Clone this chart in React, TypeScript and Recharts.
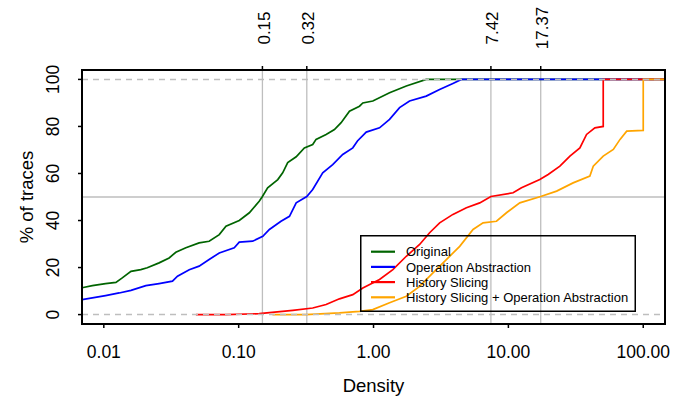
import React from 'react';
import { LineChart, Line, XAxis, YAxis, ReferenceLine, Legend, Label } from 'recharts';

// ---- data (density value, % of traces) ----
const originalPts: [number, number][] = [
  [0.00689, 11.4], [0.00822, 12.3], [0.0103, 13.2], [0.0123, 13.7], [0.0137, 15.6], [0.0159, 18.4],
  [0.0188, 19.1], [0.021, 19.9], [0.0257, 22], [0.0305, 24.1], [0.0342, 26.5], [0.0406, 28.4],
  [0.0509, 30.5], [0.0604, 31.2], [0.0718, 34], [0.0805, 37.6], [0.101, 40], [0.12, 43.3],
  [0.142, 48.2], [0.15, 50.2], [0.164, 53.9], [0.195, 57.4], [0.212, 60.3], [0.231, 64.6],
  [0.267, 67.1], [0.307, 70.9], [0.354, 72.3], [0.375, 74.5], [0.445, 76.6], [0.513, 78.7],
  [0.575, 81.6], [0.663, 86.5], [0.787, 88.6], [0.833, 90], [0.988, 90.8], [1.315, 94.3],
  [1.75, 97.2], [2.46, 100], [145, 100],
];
const opAbstractionPts: [number, number][] = [
  [0.00689, 6.4], [0.00822, 7.1], [0.0103, 8.1], [0.013, 9.2], [0.0159, 10.3], [0.0205, 12.3],
  [0.0257, 13.2], [0.0323, 14.2], [0.0352, 16.3], [0.043, 19.1], [0.0509, 20.6], [0.0604, 23.4],
  [0.0718, 26.2], [0.0927, 28.4], [0.101, 30.8], [0.127, 31.2], [0.151, 33.3], [0.169, 36.2],
  [0.206, 39.7], [0.238, 41.8], [0.267, 47.5], [0.32, 50.2], [0.354, 53.2], [0.42, 60.3],
  [0.498, 63.8], [0.591, 68.1], [0.702, 70.9], [0.76, 73.8], [0.883, 77.6], [1.108, 79.4],
  [1.315, 83], [1.56, 88], [1.85, 90.8], [2.46, 92.9], [3.09, 95.7], [3.88, 98.3], [4.48, 100],
  [145, 100],
];
const historySlicingPts: [number, number][] = [
  [0.0482, 0], [0.0805, 0], [0.142, 0.4], [0.252, 1.8], [0.354, 2.8], [0.445, 4.3], [0.559, 6.7],
  [0.702, 8.5], [0.833, 11.3], [1.108, 14.9], [1.391, 19.1], [1.75, 24.8], [2.197, 29.8],
  [2.606, 34.8], [3.093, 39], [3.88, 42.6], [4.883, 45.4], [6.13, 47.5], [7.42, 50.2],
  [10.84, 51.8], [12.51, 53.9], [17.1, 57.4], [19.72, 59.6], [24.1, 63.1], [28.6, 67.4],
  [33.9, 70.9], [38.0, 76.6], [43.8, 79.4], [50.5, 80], [50.5, 100], [145, 100],
];
const hsOpAbstractionPts: [number, number][] = [
  [0.178, 0], [0.316, 0], [0.559, 0.7], [0.787, 1.4], [0.988, 2.1], [1.315, 5], [1.75, 7.8],
  [2.197, 12], [2.758, 17.7], [3.468, 23.4], [4.355, 29], [5.47, 36.2], [6.49, 39], [8.16, 39.7],
  [9.68, 43.3], [12.15, 47.5], [17.37, 50.2], [22.8, 52.5], [30.2, 56], [40.2, 58.9], [42.6, 63.1],
  [50.5, 67.4], [60.0, 70.2], [67.3, 74.5], [75.4, 78], [100, 78.3], [100, 100], [145, 100],
];

const seriesNames = ['Original', 'Operation Abstraction', 'History Slicing', 'History Slicing + Operation Abstraction'];
const seriesColors = ['#006400', '#0000ff', '#ff0000', '#ffa500'];
const seriesPts = [originalPts, opAbstractionPts, historySlicingPts, hsOpAbstractionPts];

const xTicks = [0.01, 0.1, 1, 10, 100];
const yTicks = [0, 20, 40, 60, 80, 100];
const markerTicks = [0.15, 0.32, 7.42, 17.37];
const xDomain: [number, number] = [0.00689, 145];
const yDomain: [number, number] = [-4, 104];

const FONT = 'Liberation Sans, Arial, Helvetica, sans-serif';
const GRAY = '#bebebe';
const FRAME = '#000';

const LeftTick = (props: any) => {
  const { x, y, payload } = props;
  const bx = x - 18.5;
  return (
    <g>
      <path d={`M${x},${y}H${x + 4}`} stroke={FRAME} strokeWidth={1.5} fill="none" />
      <text x={bx} y={y} transform={`rotate(-90, ${bx}, ${y})`} textAnchor="middle" fontSize={17.5} fontFamily={FONT} fill="#000">
        {payload.value}
      </text>
    </g>
  );
};

const BottomTick = (props: any) => {
  const { x, y, payload } = props;
  return (
    <g>
      <path d={`M${x},${y - 21}V${y - 17}`} stroke={FRAME} strokeWidth={1.5} fill="none" />
      <text x={x} y={y + 12.5} textAnchor="middle" fontSize={17.5} fontFamily={FONT} fill="#000">
        {Number(payload.value).toFixed(2)}
      </text>
    </g>
  );
};

const TopTick = (props: any) => {
  const { x, y, payload } = props;
  const bx = x + 7.5;
  const cy = y - 38;
  return (
    <g>
      <path d={`M${x},${y}V${y + 4}`} stroke={FRAME} strokeWidth={1.5} fill="none" />
      <text x={bx} y={cy} transform={`rotate(-90, ${bx}, ${cy})`} textAnchor="middle" fontSize={17} fontFamily={FONT} fill="#000">
        {Number(payload.value).toFixed(2)}
      </text>
    </g>
  );
};

// Overlay holding the plot frame and the legend box (page coordinates)
const Overlay = () => (
  <svg width={674} height={396} style={{ display: 'block', overflow: 'visible', pointerEvents: 'none' }}>
    <rect x={82} y={70} width={583} height={254} fill="none" stroke={FRAME} strokeWidth={2} />
    <g transform="translate(360,235)">
      <rect x={0.75} y={0.75} width={274.5} height={75.5} fill="none" stroke="#000" strokeWidth={1.5} />
      {seriesNames.map((n, i) => {
        const cy = 16.7 + i * 15.2;
        return (
          <g key={n}>
            <line x1={11} x2={35} y1={cy} y2={cy} stroke={seriesColors[i]} strokeWidth={2.2} />
            <text x={46} y={cy + 4.6} fontSize={13} fontFamily={FONT} fill="#000">{n}</text>
          </g>
        );
      })}
    </g>
  </svg>
);

export default function App() {
  return (
    <div style={{ position: 'absolute', left: 0, top: 0, width: 674, height: 396, background: '#fff' }}>
      <LineChart width={674} height={396} margin={{ top: 0, right: 9, bottom: 0, left: 0 }}>
        <XAxis
          dataKey="x"
          type="number"
          scale="log"
          domain={xDomain}
          allowDataOverflow
          ticks={xTicks}
          tick={<BottomTick />}
          tickSize={4}
          tickMargin={17}
          tickLine={false}
          axisLine={false}
          height={72}
          interval={0}
        >
          <Label
            content={() => (
              <text x={373.5} y={391.5} textAnchor="middle" fontSize={18.5} fontFamily={FONT} fill="#000">Density</text>
            )}
          />
        </XAxis>
        <XAxis
          xAxisId="top"
          orientation="top"
          dataKey="x"
          type="number"
          scale="log"
          domain={xDomain}
          allowDataOverflow
          ticks={markerTicks}
          tick={<TopTick />}
          tickSize={4}
          tickMargin={0}
          tickLine={false}
          axisLine={false}
          height={70}
          interval={0}
        />
        <YAxis
          type="number"
          domain={yDomain}
          allowDataOverflow
          ticks={yTicks}
          tick={<LeftTick />}
          tickSize={4}
          tickMargin={0}
          tickLine={false}
          axisLine={false}
          width={82}
          interval={0}
        >
          <Label
            content={() => (
              <text x={33} y={197} transform="rotate(-90, 33, 197)" textAnchor="middle" fontSize={18.5} fontFamily={FONT} fill="#000">% of traces</text>
            )}
          />
        </YAxis>

        {markerTicks.map((m) => (
          <ReferenceLine key={m} x={m} stroke={GRAY} strokeWidth={1.3} />
        ))}
        <ReferenceLine y={50} stroke={GRAY} strokeWidth={1.3} />

        {seriesPts.map((pts, i) => (
          <Line
            key={seriesNames[i]}
            name={seriesNames[i]}
            data={pts.map(([x, y]) => ({ x, y }))}
            dataKey="y"
            type="linear"
            stroke={seriesColors[i]}
            strokeWidth={1.7}
            dot={false}
            activeDot={false}
            isAnimationActive={false}
          />
        ))}

        <ReferenceLine y={0} stroke={GRAY} strokeWidth={1.5} strokeDasharray="6 5" />
        <ReferenceLine y={100} stroke={GRAY} strokeWidth={1.5} strokeDasharray="6 5" />

        <Legend
          layout="horizontal"
          verticalAlign="middle"
          align="center"
          content={() => <Overlay />}
          wrapperStyle={{ left: 0, top: 0, width: 674, height: 396, pointerEvents: 'none' }}
        />
      </LineChart>
    </div>
  );
}
